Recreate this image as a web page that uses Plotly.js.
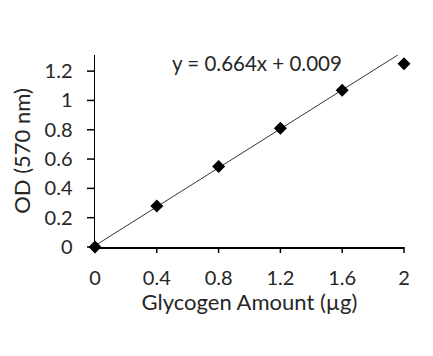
<!DOCTYPE html>
<html><head><meta charset="utf-8">
<script src="https://cdn.plot.ly/plotly-3.0.1.min.js"></script>
<style>html,body{margin:0;padding:0;background:#fff;}#chart{width:433px;height:356px;}</style>
</head><body><div id="chart"></div>
<script>
const glycogen = [0, 0.4, 0.8, 1.2, 1.6, 2];
const od = [0, 0.28, 0.55, 0.81, 1.07, 1.25];
const slope = 0.664;
const intercept = 0.009;
const xTicks = [0, 0.4, 0.8, 1.2, 1.6, 2];
const xTickText = ['0', '0.4', '0.8', '1.2', '1.6', '2'];
const yTicks = [0, 0.2, 0.4, 0.6, 0.8, 1, 1.2];
const yTickText = ['0', '0.2', '0.4', '0.6', '0.8', '1', '1.2'];
const equationText = 'y = 0.664x + 0.009';

const fx = [glycogen[0], glycogen[glycogen.length - 1]];
const fy = fx.map(v => slope * v + intercept);
const FONT = 'Lato, sans-serif';
const TXT = '#262626';
const X_RANGE = [0, 2];
const Y_RANGE = [0, 1.31];

const traces = [
  {x: fx, y: fy, mode: 'lines', line: {color: '#333', width: 1}, hoverinfo: 'skip', cliponaxis: true},
  {x: glycogen, y: od, mode: 'markers', marker: {symbol: 'diamond', size: 10, color: '#000'}, cliponaxis: false}
];

// visible tick marks: paper-referenced (not clipped), placed at the axis tick values
const fracX = v => (v - X_RANGE[0]) / (X_RANGE[1] - X_RANGE[0]);
const fracY = v => (v - Y_RANGE[0]) / (Y_RANGE[1] - Y_RANGE[0]);
const tickShapes = [];
xTicks.forEach(v => tickShapes.push({
  type: 'line', xref: 'paper', yref: 'paper', ysizemode: 'pixel', yanchor: 0,
  x0: fracX(v), x1: fracX(v), y0: 0, y1: -6, line: {color: '#000', width: 1.5}, layer: 'above'
}));
yTicks.forEach(v => tickShapes.push({
  type: 'line', yref: 'paper', xref: 'paper', xsizemode: 'pixel', xanchor: 0,
  y0: fracY(v), y1: fracY(v), x0: 0, x1: -8, line: {color: '#000', width: 1.5}, layer: 'above'
}));

const layout = {
  width: 433, height: 356,
  margin: {l: 95, r: 29, t: 55, b: 109},
  paper_bgcolor: '#fff', plot_bgcolor: '#fff',
  showlegend: false,
  font: {family: FONT, color: TXT, size: 20},
  xaxis: {
    range: X_RANGE, tickvals: xTicks, ticktext: xTickText,
    showgrid: false, zeroline: false, showline: true, linecolor: '#000', linewidth: 1.5,
    ticks: 'outside', ticklen: 12, tickcolor: 'rgba(0,0,0,0)', tickwidth: 1.5,
    tickfont: {size: 20, color: TXT},
    title: {text: 'Glycogen Amount (µg)', font: {size: 22, color: TXT}, standoff: 2}
  },
  yaxis: {
    range: Y_RANGE, tickvals: yTicks, ticktext: yTickText,
    showgrid: false, zeroline: false, showline: true, linecolor: '#000', linewidth: 1.5,
    ticks: 'outside', ticklen: 17, tickcolor: 'rgba(0,0,0,0)', tickwidth: 1.5,
    tickfont: {size: 20, color: TXT},
    title: {text: 'OD (570 nm)', font: {size: 22, color: TXT}, standoff: 8}
  },
  shapes: tickShapes,
  annotations: [{
    text: equationText, xref: 'paper', yref: 'paper', x: 0.525, y: 0.96,
    xanchor: 'center', yanchor: 'middle', showarrow: false,
    font: {size: 20.5, color: TXT}
  }]
};
Plotly.newPlot('chart', traces, layout, {displayModeBar: false, staticPlot: true});
</script></body></html>
